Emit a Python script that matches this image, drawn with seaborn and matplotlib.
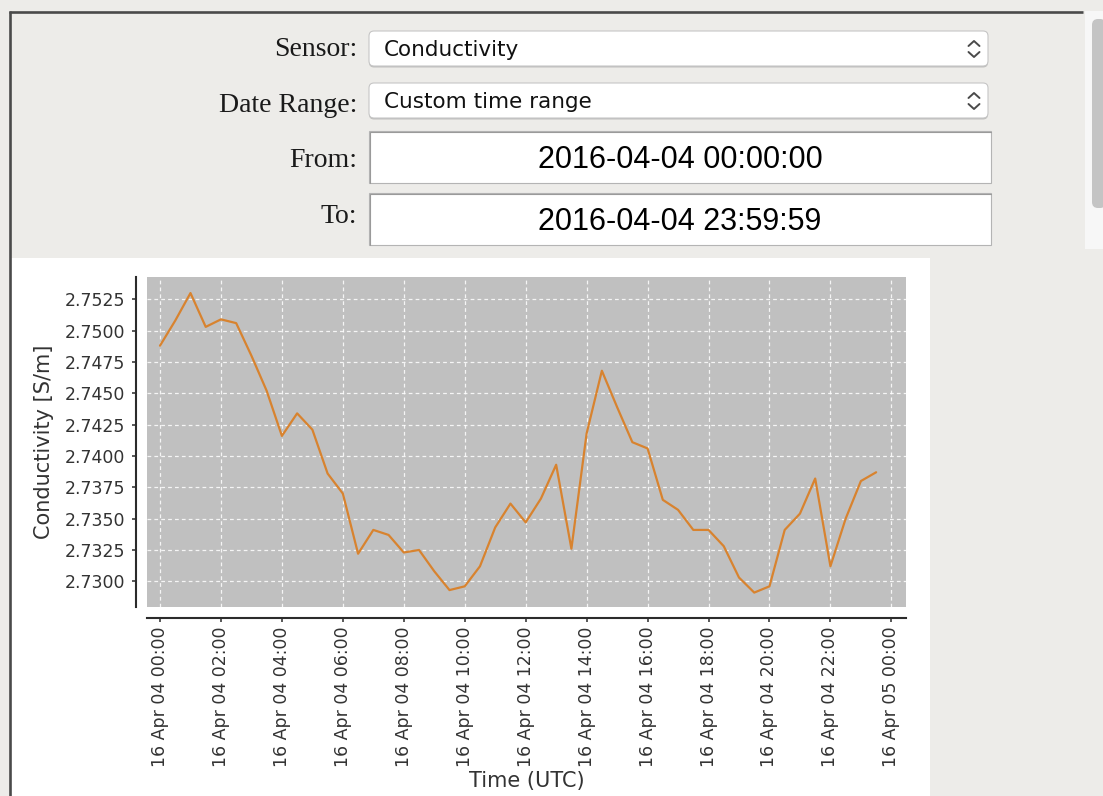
import pandas as pd
import numpy as np
import matplotlib
matplotlib.use("Agg")
import matplotlib.pyplot as plt
import matplotlib.dates as mdates
from matplotlib.patches import FancyBboxPatch, Rectangle
from matplotlib.ticker import MultipleLocator, FormatStrFormatter
import seaborn as sns

# conductivity readings, one every 30 minutes on 2016-04-04
start_time = "2016-04-04 00:00"
step = "30min"
conductivity = [2.7488, 2.7508, 2.7530, 2.7503, 2.7509, 2.7506, 2.7480, 2.7452,
                2.7416, 2.7434, 2.7421, 2.7386, 2.7370, 2.7322, 2.7341, 2.7337,
                2.7323, 2.7325, 2.7308, 2.7293, 2.7296, 2.7312, 2.7343, 2.7362,
                2.7347, 2.7366, 2.7393, 2.7326, 2.7418, 2.7468, 2.7439, 2.7411,
                2.7406, 2.7365, 2.7357, 2.7341, 2.7341, 2.7328, 2.7303, 2.7291,
                2.7296, 2.7341, 2.7354, 2.7382, 2.7312, 2.7350, 2.7380, 2.7387]

# form widgets above the chart
form_labels = ["Sensor:", "Date Range:", "From:", "To:"]
dropdown_values = ["Conductivity", "Custom time range"]
field_values = ["2016-04-04 00:00:00", "2016-04-04 23:59:59"]

df = pd.DataFrame({
    "time": pd.date_range(start_time, periods=len(conductivity), freq=step),
    "conductivity": conductivity,
})

sns.set_style("ticks")
plt.rcParams["font.family"] = ["DejaVu Sans"]

W, H = 1103, 796
fig = plt.figure(figsize=(W / 100, H / 100), dpi=100, facecolor="#edece9")

# background window, drawn in pixel coordinates
bg = fig.add_axes([0, 0, 1, 1], zorder=0)
bg.set_xlim(0, W)
bg.set_ylim(H, 0)
bg.axis("off")

bg.add_patch(Rectangle((11, 258), 919, 540, fc="white", ec="none"))
bg.plot([9.5, 9.5], [11, H], color="#4a4a4a", lw=1.9, solid_capstyle="butt")
bg.plot([8.5, 1083], [12, 12], color="#4a4a4a", lw=1.9, solid_capstyle="butt")

# scrollbar
bg.add_patch(Rectangle((1085, 11), 20, 238, fc="#f7f7f7", ec="none"))
bg.add_patch(FancyBboxPatch((1092, 19), 14, 189, boxstyle="round,pad=0,rounding_size=6",
                            fc="#c4c4c4", ec="none"))

label_baselines = [56, 111.5, 167, 223]
for lab, yb in zip(form_labels, label_baselines):
    bg.text(357, yb, lab, ha="right", va="baseline", family="Liberation Serif",
            fontsize=20, color="#1a1a1a")

# dropdowns
for i, val in enumerate(dropdown_values):
    y0 = 31 + 52 * i
    bg.add_patch(FancyBboxPatch((369, y0 + 1.5), 619, 35, boxstyle="round,pad=0,rounding_size=5",
                                fc="#9a9a9a", ec="none", alpha=0.55))
    bg.add_patch(FancyBboxPatch((369, y0), 619, 35, boxstyle="round,pad=0,rounding_size=5",
                                fc="white", ec="#c6c6c6", lw=0.8))
    bg.text(384, y0 + 25, val, ha="left", va="baseline", family="DejaVu Sans",
            fontsize=15.5, color="#111111")
    bg.plot([968.5, 974, 979.5], [y0 + 15, y0 + 10, y0 + 15], color="#4a4a4a", lw=1.4,
            solid_capstyle="round", solid_joinstyle="round")
    bg.plot([968.5, 974, 979.5], [y0 + 21, y0 + 26, y0 + 21], color="#4a4a4a", lw=1.4,
            solid_capstyle="round", solid_joinstyle="round")

# text fields
for i, val in enumerate(field_values):
    y0 = 131 + 62 * i
    bg.add_patch(Rectangle((369, y0), 622, 52, fc="white", ec="#b4b4b4", lw=0.8))
    bg.plot([369.5, 369.5, 991], [y0 + 52, y0 + 0.5, y0 + 0.5], color="#9a9a9a", lw=0.8)
    bg.text(680, y0 + 37, val, ha="center", va="baseline", family="Liberation Sans",
            fontsize=22, color="black")

# chart
ax = fig.add_axes([147 / W, 1 - 607 / H, 759 / W, 330 / H], zorder=2)
ax.set_facecolor("#c0c0c0")
sns.lineplot(data=df, x="time", y="conductivity", ax=ax, color="#d8832f", lw=1.6)

ax.set_axisbelow(True)
ax.grid(True, color="white", ls=(0, (3, 2.5)), lw=0.9, alpha=0.85)

t0 = pd.Timestamp(start_time)
ax.set_xlim(t0 - pd.Timedelta(minutes=25.6), t0 + pd.Timedelta(hours=24.48))
ax.set_ylim(2.72795, 2.75428)
ax.xaxis.set_major_locator(mdates.HourLocator(byhour=range(0, 24, 2)))
ax.xaxis.set_major_formatter(mdates.DateFormatter("%y %b %d %H:%M"))
ax.yaxis.set_major_locator(MultipleLocator(0.0025))
ax.yaxis.set_major_formatter(FormatStrFormatter("%.4f"))

sns.despine(ax=ax, offset=8)
for s in ["left", "bottom"]:
    ax.spines[s].set_color("#2b2b2b")
    ax.spines[s].set_linewidth(1.5)
ax.tick_params(direction="out", length=3, width=1.1, color="#2b2b2b",
               labelsize=12.5, labelcolor="#333333")
ax.tick_params(axis="y", pad=5)
ax.tick_params(axis="x", pad=3, labelrotation=90)

ax.set_xlabel("Time (UTC)", fontsize=15, color="#333333", va="top")
ax.set_ylabel("Conductivity [S/m]", fontsize=15, color="#333333")
ax.xaxis.set_label_coords(0.5, -(771 - 607) / 330)
ax.yaxis.set_label_coords(-(147 - 54) / 759, 0.5)

fig.savefig("out.png", dpi=100, facecolor=fig.get_facecolor())
